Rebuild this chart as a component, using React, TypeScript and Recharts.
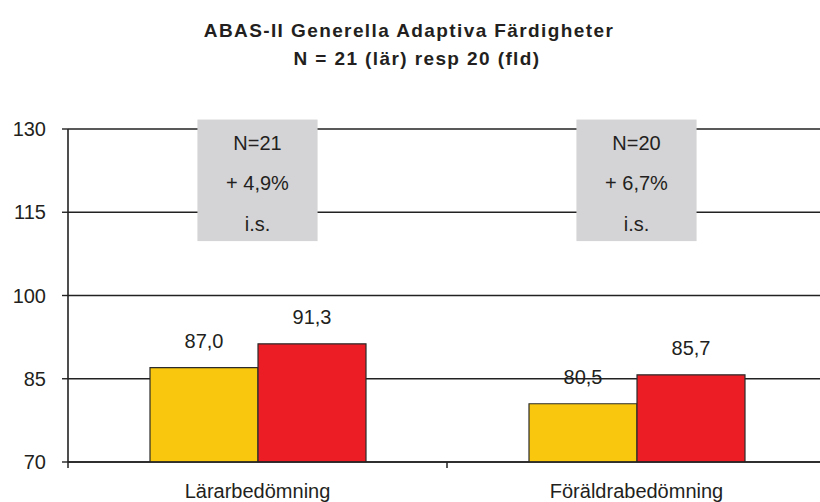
import React from 'react';
import { BarChart, Bar, XAxis, YAxis, CartesianGrid, LabelList, ReferenceArea } from 'recharts';

const categories = ['Lärarbedömning', 'Föräldrabedömning'];
const firstValues = [87.0, 80.5];
const secondValues = [91.3, 85.7];
const yTicks = [70, 85, 100, 115, 130];
const boxLines = [
  ['N=21', '+ 4,9%', 'i.s.'],
  ['N=20', '+ 6,7%', 'i.s.'],
];
const boxBottom = 109.8;
const boxTop = 131.7;
const titleLines = ['ABAS-II Generella Adaptiva Färdigheter', 'N = 21 (lär) resp 20 (fld)'];

const data = categories.map((c, i) => ({ name: c, a: firstValues[i], b: secondValues[i] }));

const FONT = '"Liberation Sans", Arial, Helvetica, sans-serif';
const TEXT = '#231F20';
const LINE = '#222222';

const fmt = (v: any) => Number(v).toFixed(1).replace('.', ',');

const makeBoxShape = (lines: string[]) => (props: any) => {
  const { x, y, width, height } = props;
  const w = width > 10 ? width * 0.317 : 120;
  const cx = x + (width > 10 ? width / 2 : 0);
  return (
    <g>
      <rect x={cx - w / 2} y={y} width={w} height={height} fill="#D4D4D6" />
      {lines.map((t, i) => (
        <text key={i} x={cx} y={y + 30 + 40.5 * i} textAnchor="middle" fontSize={20} fill={TEXT} fontFamily={FONT}>
          {t}
        </text>
      ))}
    </g>
  );
};

const CategoryTick = (props: any) => {
  const { x, y, payload, index, width, visibleTicksCount } = props;
  const band = width && visibleTicksCount ? width / visibleTicksCount : 0;
  return (
    <g>
      {band > 0 && (
        <line x1={x + band / 2} x2={x + band / 2} y1={y} y2={y + 6} stroke={LINE} strokeWidth={1.5} />
      )}
      {band > 0 && index === 0 && (
        <line x1={x - band / 2} x2={x - band / 2} y1={y} y2={y + 6} stroke={LINE} strokeWidth={1.5} />
      )}
      <text x={x} y={y + 35.5} textAnchor="middle" fontSize={20} fill={TEXT} fontFamily={FONT}>
        {payload.value}
      </text>
    </g>
  );
};

export default function App() {
  return (
    <div style={{ position: 'absolute', left: 0, top: 0, width: 820, height: 502, overflow: 'hidden', fontFamily: FONT, background: '#fff' }}>
      <BarChart
        width={820}
        height={502}
        data={data}
        margin={{ top: 129, right: -6, bottom: 0, left: 0 }}
        barGap={0}
        barSize={108}
      >
        <CartesianGrid vertical={false} stroke={LINE} strokeWidth={1.5} />
        <XAxis
          dataKey="name"
          height={40}
          tickSize={0}
          tickMargin={0}
          tickLine={false}
          interval={0}
          axisLine={{ stroke: LINE, strokeWidth: 1.6 }}
          tick={<CategoryTick />}
        />
        <YAxis
          domain={[70, 130]}
          ticks={yTicks}
          interval={0}
          width={68}
          tickSize={6}
          tickMargin={16}
          allowDataOverflow
          axisLine={{ stroke: LINE, strokeWidth: 1.6 }}
          tickLine={{ stroke: LINE, strokeWidth: 1.4 }}
          tick={{ fontSize: 20, fill: TEXT, fontFamily: FONT }}
        />
        {categories.map((c, i) => (
          <ReferenceArea
            key={c}
            x1={c}
            x2={c}
            y1={boxBottom}
            y2={boxTop}
            ifOverflow="visible"
            shape={makeBoxShape(boxLines[i])}
          />
        ))}
        <Bar dataKey="a" fill="#F8C70E" stroke="#2b2b2b" strokeWidth={1.2} isAnimationActive={false}>
          <LabelList dataKey="a" position="top" offset={20} formatter={fmt} fontSize={20} fill={TEXT} fontFamily={FONT} />
        </Bar>
        <Bar dataKey="b" fill="#EC1D25" stroke="#2b2b2b" strokeWidth={1.2} isAnimationActive={false}>
          <LabelList dataKey="b" position="top" offset={20} formatter={fmt} fontSize={20} fill={TEXT} fontFamily={FONT} />
        </Bar>
      </BarChart>
      <svg style={{ position: 'absolute', left: 0, top: 0 }} width={820} height={80}>
        <text x={409} y={37} textAnchor="middle" fontSize={19} fontWeight="bold" fill={TEXT} fontFamily={FONT} style={{ letterSpacing: 1.4 }}>
          {titleLines[0]}
        </text>
        <text x={417} y={65} textAnchor="middle" fontSize={19} fontWeight="bold" fill={TEXT} fontFamily={FONT} style={{ letterSpacing: 1.4 }}>
          {titleLines[1]}
        </text>
      </svg>
    </div>
  );
}
